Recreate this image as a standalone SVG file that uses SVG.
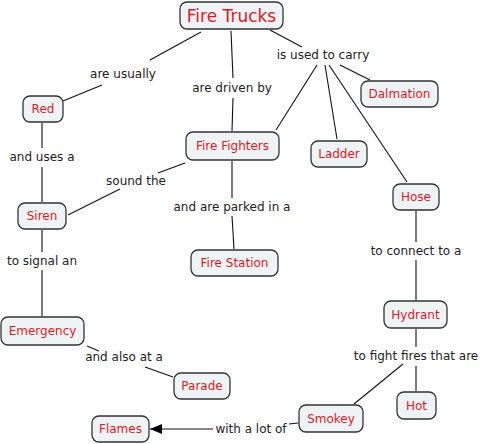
<svg xmlns="http://www.w3.org/2000/svg" width="482" height="444" viewBox="0 0 482 444">
<defs>
<style>
.n rect{fill:#eef3f5;stroke:#333;stroke-width:1.3}
.n text{fill:#e3191e;font-family:"DejaVu Sans",Verdana,sans-serif;font-size:12px;text-anchor:middle;dominant-baseline:central}
.l{fill:#222;font-family:"DejaVu Sans",Verdana,sans-serif;font-size:12px;text-anchor:middle;dominant-baseline:central}
#c line{stroke:#111;stroke-width:1.1}
</style>
<marker id="ah" markerWidth="12" markerHeight="10" refX="12" refY="5" orient="auto" markerUnits="userSpaceOnUse">
<path d="M0,0 L12,5 L0,10 Z" fill="#000"/>
</marker>
</defs>
<rect width="482" height="444" fill="#fff"/>
<g id="c">
<line x1="201" y1="32" x2="150" y2="60"/>
<line x1="102" y1="85" x2="63" y2="101"/>
<line x1="231" y1="31" x2="233" y2="78"/>
<line x1="233" y1="98" x2="232" y2="131"/>
<line x1="270" y1="30" x2="302" y2="47"/>
<line x1="317" y1="65" x2="276" y2="130"/>
<line x1="325" y1="65" x2="337" y2="139"/>
<line x1="329" y1="65" x2="407" y2="182"/>
<line x1="340" y1="65" x2="370" y2="80"/>
<line x1="42" y1="123" x2="42" y2="148"/>
<line x1="42" y1="167" x2="42" y2="202"/>
<line x1="185" y1="163" x2="158" y2="173"/>
<line x1="120" y1="189" x2="68" y2="215"/>
<line x1="232" y1="161" x2="232" y2="198"/>
<line x1="232" y1="216" x2="234" y2="249"/>
<line x1="42" y1="230" x2="42" y2="252"/>
<line x1="42" y1="270" x2="42" y2="316"/>
<line x1="87" y1="346" x2="99" y2="351"/>
<line x1="145" y1="367" x2="173" y2="377"/>
<line x1="416" y1="211" x2="416" y2="242"/>
<line x1="416" y1="260" x2="416" y2="300"/>
<line x1="416" y1="329" x2="416" y2="347"/>
<line x1="416" y1="366" x2="416" y2="391"/>
<line x1="403" y1="364" x2="354" y2="404"/>
<line x1="289" y1="424" x2="298" y2="423"/>
<line x1="213" y1="429" x2="150" y2="429" marker-end="url(#ah)"/>
</g>
<g id="lbl">
<text class="l" x="123" y="74">are usually</text>
<text class="l" x="232" y="88">are driven by</text>
<text class="l" x="323" y="55">is used to carry</text>
<text class="l" x="42" y="157">and uses a</text>
<text class="l" x="136" y="181">sound the</text>
<text class="l" x="232" y="207">and are parked in a</text>
<text class="l" x="42" y="261">to signal an</text>
<text class="l" x="416" y="251">to connect to a</text>
<text class="l" x="124" y="357">and also at a</text>
<text class="l" x="416" y="356">to fight fires that are</text>
<text class="l" x="251" y="429">with a lot of</text>
</g>
<g id="fire-trucks" class="n"><rect x="180" y="2" width="103" height="27" rx="7"/><text x="231.5" y="15.5" style="font-size:17px">Fire Trucks</text></g>
<g id="red" class="n"><rect x="23" y="96" width="40" height="26" rx="7"/><text x="43" y="109">Red</text></g>
<g id="fire-fighters" class="n"><rect x="186" y="132" width="93" height="28" rx="7"/><text x="232.5" y="146">Fire Fighters</text></g>
<g id="dalmation" class="n"><rect x="361" y="81" width="77" height="26" rx="7"/><text x="399.5" y="94">Dalmation</text></g>
<g id="ladder" class="n"><rect x="311" y="141" width="56" height="26" rx="7"/><text x="339" y="154">Ladder</text></g>
<g id="hose" class="n"><rect x="393" y="184" width="46" height="26" rx="7"/><text x="416" y="197">Hose</text></g>
<g id="siren" class="n"><rect x="18" y="203" width="48" height="26" rx="7"/><text x="42" y="216">Siren</text></g>
<g id="fire-station" class="n"><rect x="191" y="250" width="87" height="26" rx="7"/><text x="234.5" y="263">Fire Station</text></g>
<g id="emergency" class="n"><rect x="1" y="317" width="83" height="28" rx="7"/><text x="42.5" y="331">Emergency</text></g>
<g id="parade" class="n"><rect x="174" y="373" width="56" height="26" rx="7"/><text x="202" y="386">Parade</text></g>
<g id="hydrant" class="n"><rect x="384" y="301" width="63" height="27" rx="7"/><text x="415.5" y="314.5">Hydrant</text></g>
<g id="hot" class="n"><rect x="397" y="392" width="39" height="27" rx="7"/><text x="416.5" y="405.5">Hot</text></g>
<g id="smokey" class="n"><rect x="299" y="405" width="64" height="27" rx="7"/><text x="331" y="418.5">Smokey</text></g>
<g id="flames" class="n"><rect x="92" y="416" width="57" height="26" rx="7"/><text x="120.5" y="429">Flames</text></g>
</svg>
